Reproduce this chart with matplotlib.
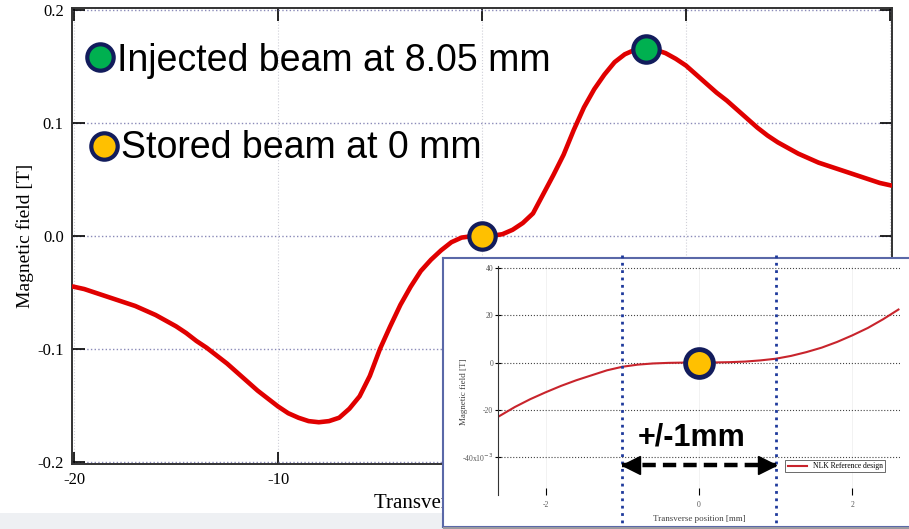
import matplotlib
matplotlib.use('Agg')
import matplotlib.pyplot as plt
from matplotlib.patches import Rectangle

# Main curve: transverse position [mm] vs magnetic field [T]
pos_mm = [-20, -19.5, -19, -18.5, -18, -17.5, -17, -16.5, -16, -15.5, -15, -14.5, -14, -13.5,
          -13, -12.5, -12, -11.5, -11, -10.5, -10, -9.5, -9, -8.5,
          -8, -7.5, -7, -6.5, -6, -5.5, -5, -4.5, -4, -3.5, -3, -2.5, -2, -1.5, -1, -0.5,
          0, 0.5, 1, 1.5, 2, 2.5, 3, 3.5, 4, 4.5, 5, 5.5, 6, 6.5, 7, 7.5, 8,
          8.5, 9, 9.5, 10, 10.5, 11, 11.5, 12, 12.5, 13, 13.5, 14, 14.5, 15, 15.5,
          16, 16.5, 17, 17.5, 18, 18.5, 19, 19.5, 20]
field_T = [-0.045, -0.047, -0.050, -0.053, -0.056, -0.059, -0.062, -0.066, -0.070, -0.075, -0.080,
           -0.086, -0.093, -0.099, -0.106, -0.113, -0.121, -0.129, -0.137, -0.144, -0.151, -0.157,
           -0.161, -0.164,
           -0.165, -0.164, -0.161, -0.153, -0.142, -0.124, -0.100, -0.080, -0.061, -0.045, -0.031, -0.021,
           -0.0126, -0.0055, -0.0014, -0.0002,
           0.0, 0.0002, 0.0016, 0.0055, 0.0115, 0.020, 0.037, 0.054, 0.072, 0.094, 0.114, 0.130, 0.143,
           0.154, 0.161, 0.165, 0.166,
           0.165, 0.162, 0.157, 0.151, 0.143, 0.135, 0.127, 0.120, 0.112, 0.104, 0.096, 0.089, 0.083,
           0.078, 0.073, 0.069, 0.065, 0.062, 0.059, 0.056, 0.053, 0.050, 0.047, 0.045]

injected = (8.05, 0.166)
stored = (0.0, 0.0)

# Inset: zoom around the stored beam, field in 1e-3 T
inset_mm = [-2.6, -2.4, -2.2, -2.0, -1.8, -1.6, -1.4, -1.2, -1.0, -0.8, -0.6, -0.4, -0.2, 0.0,
            0.2, 0.4, 0.6, 0.8, 1.0, 1.2, 1.4, 1.6, 1.8, 2.0, 2.2, 2.4, 2.6]
inset_mT = [-22.6, -18.8, -15.5, -12.6, -9.9, -7.5, -5.4, -3.3, -1.8, -0.9, -0.4, -0.15, -0.03, 0.0,
            0.03, 0.15, 0.4, 0.9, 1.6, 2.8, 4.4, 6.3, 8.7, 11.5, 14.6, 18.3, 22.4]
inset_yticks = [40, 20, 0, -20, -40]
inset_ylabels = ['40', '20', '0', '-20', r'-40x10$^{-3}$']
inset_xticks = [-2, 0, 2]
inset_xlabels = ['-2', '0', '2']
window = [-1, 1]

W, H = 909, 529
serif = 'Liberation Serif'
sans = 'Liberation Sans'
navy = '#121c5c'

fig = plt.figure(figsize=(W / 100, H / 100), dpi=100)
fig.patch.set_facecolor('white')

# light footer band
fig.patches.append(Rectangle((0, 0), 1, 16 / H, transform=fig.transFigure,
                             facecolor='#eef0f3', edgecolor='none', zorder=0))

# ---- main axes
ax = fig.add_axes([72 / W, 65 / H, 820 / W, 456 / H])
ax.plot(pos_mm, field_T, color='#e00000', lw=3.3, solid_joinstyle='round', zorder=3)
ax.plot(*stored, 'o', ms=19, mfc='#ffc000', mec=navy, mew=3, zorder=4)
ax.plot(*injected, 'o', ms=19, mfc='#00b050', mec=navy, mew=3, zorder=4)

ax.set_xlim(-20.1, 20.1)
ax.set_ylim(-0.202, 0.202)
ax.set_xticks([-20, -10, 0, 10, 20])
ax.set_xticklabels(['-20', '-10', '0', '10', '20'])
ax.set_yticks([-0.2, -0.1, 0.0, 0.1, 0.2])
ax.set_yticklabels(['-0.2', '-0.1', '0.0', '0.1', '0.2'])
ax.tick_params(direction='in', length=9, width=1.2, top=True, right=True,
               labelsize=12, pad=6)
for lab in ax.get_xticklabels() + ax.get_yticklabels():
    lab.set_family(serif)
ax.grid(axis='y', ls=':', color='#8a8ab8', lw=1.0)
ax.grid(axis='x', ls=':', color='#d0d0d8', lw=0.8)
for s in ax.spines.values():
    s.set_color('#333333')
    s.set_linewidth(1.4)
ax.set_ylabel('Magnetic field [T]', family=serif, fontsize=14)
ax.yaxis.set_label_coords(-38 / 820, 0.5)
ax.set_xlabel('Transverse position [mm]', family=serif, fontsize=15)
ax.xaxis.set_label_coords(0.5, -30 / 456)

# beam labels
ax.plot(100 / W, 1 - 57 / H, 'o', ms=19, mfc='#00b050', mec=navy, mew=3,
        transform=fig.transFigure, clip_on=False, zorder=5)
fig.text(117 / W, 1 - 61 / H, 'Injected beam at 8.05 mm', family=sans, fontsize=27,
         va='center', ha='left')
ax.plot(104 / W, 1 - 146 / H, 'o', ms=19, mfc='#ffc000', mec=navy, mew=3,
        transform=fig.transFigure, clip_on=False, zorder=5)
fig.text(121 / W, 1 - 148 / H, 'Stored beam at 0 mm', family=sans, fontsize=27,
         va='center', ha='left')

# ---- inset frame
frame = fig.add_axes([443 / W, 2 / H, 480 / W, 269 / H], zorder=2)
frame.set_xticks([])
frame.set_yticks([])
frame.set_facecolor('white')
for s in frame.spines.values():
    s.set_color('#5a68a8')
    s.set_linewidth(1.5)
fig.patches.append(Rectangle((443 / W, 0), 1, 2 / H, transform=fig.transFigure,
                             facecolor='#9a9aa0', edgecolor='none', zorder=2.5))

# ---- inset axes
ia = fig.add_axes([498 / W, 34 / H, 402 / W, 229 / H], zorder=3)
ia.patch.set_alpha(0)
ia.plot(inset_mm, inset_mT, color='#c8242c', lw=1.5, label='NLK Reference design')
ia.set_xlim(-2.62, 2.62)
ia.set_ylim(-56, 40.8)
ia.set_yticks(inset_yticks)
ia.set_yticklabels(inset_ylabels)
ia.set_xticks(inset_xticks)
ia.set_xticklabels(inset_xlabels)
ia.tick_params(axis='y', labelsize=5.5, labelcolor='#555555', length=4, width=0.8,
               direction='inout', pad=1.5)
ia.tick_params(axis='x', labelsize=5.5, labelcolor='#555555', length=5, width=0.8,
               direction='in', pad=4)
for lab in ia.get_xticklabels() + ia.get_yticklabels():
    lab.set_family(serif)
ia.grid(axis='y', ls=':', color='#444444', lw=0.8)
ia.grid(axis='x', ls='-', color='#f0f0f0', lw=0.6)
for k in ['top', 'right', 'bottom']:
    ia.spines[k].set_visible(False)
ia.spines['left'].set_color('#333333')
ia.spines['left'].set_linewidth(0.8)
ia.set_ylabel('Magnetic field [T]', family=serif, fontsize=6.5, color='#444444')
ia.yaxis.set_label_coords(-30 / 402, 0.45)
ia.set_xlabel('Transverse position [mm]', family=serif, fontsize=6.5, color='#444444')
ia.xaxis.set_label_coords(0.5, -20 / 229)
leg = ia.legend(loc='upper left', bbox_to_anchor=(0.705, 0.17), frameon=True,
                fancybox=False, edgecolor='#444444', handlelength=2.5, borderpad=0.3,
                prop={'family': serif, 'size': 5.5})
leg.get_frame().set_linewidth(0.7)

# +/-1 mm window
for xv in window:
    ia.plot([xv, xv], [45.5, -69.6], ls=':', color='#1f3a9c', lw=2.0, clip_on=False, zorder=4)
ia.plot(window, [-43.4, -43.4], ls=(0, (3, 1.6)), color='black', lw=3.2, zorder=5)
ia.plot(window[0] + 0.12, -43.4, marker='<', ms=13, color='black', zorder=5)
ia.plot(window[1] - 0.12, -43.4, marker='>', ms=13, color='black', zorder=5)
ia.text(-0.09, -31.5, '+/-1mm', family=sans, fontweight='bold', fontsize=22,
        ha='center', va='center')
ia.plot(*stored, 'o', ms=20, mfc='#ffc000', mec=navy, mew=3.5, zorder=6)

fig.savefig('out.png', dpi=100)
